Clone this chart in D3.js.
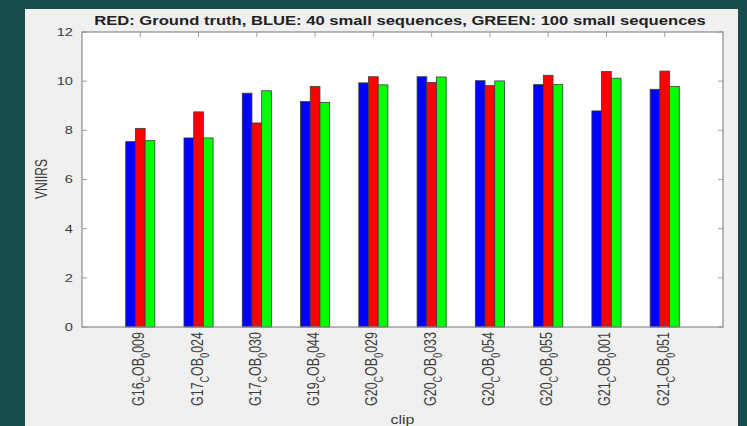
<!DOCTYPE html>
<html>
<head>
<meta charset="utf-8">
<script src="https://cdn.jsdelivr.net/npm/d3@7"></script>
<style>
  html, body { margin: 0; padding: 0; background: #184c4a; }
  svg { display: block; font-family: "Liberation Sans", Arial, Helvetica, sans-serif; }
</style>
</head>
<body>
<svg id="chart" width="747" height="426"></svg>
<script>
// Clip identifiers: group id and sequence number
const clipGroup = ["G16", "G17", "G17", "G19", "G20", "G20", "G20", "G20", "G21", "G21"];
const clipSeq   = ["009", "024", "030", "044", "029", "033", "054", "055", "001", "051"];

// VNIIRS per clip
const blue40   = [7.54, 7.69, 9.51, 9.17, 9.93, 10.18, 10.02, 9.86, 8.79, 9.67];   // 40 small sequences
const redTruth = [8.08, 8.75, 8.30, 9.78, 10.18, 9.95, 9.82, 10.24, 10.39, 10.41]; // ground truth
const green100 = [7.58, 7.69, 9.61, 9.13, 9.85, 10.17, 10.01, 9.86, 10.12, 9.78]; // 100 small sequences

const yTicks = [0, 2, 4, 6, 8, 10, 12];
const seriesNames = ["blue40", "redTruth", "green100"];
const seriesColors = ["#0000ff", "#ff0000", "#00ff00"];

const titleText = "RED: Ground truth, BLUE: 40 small sequences, GREEN: 100 small sequences";

const svg = d3.select("#chart");
const W = 747, H = 426;
const sx = 1.33; // horizontal text stretch

// grey figure panel
svg.append("rect").attr("x", 25).attr("y", 9).attr("width", 713).attr("height", H - 9)
  .attr("fill", "#f0f0f0");

const plot = { left: 82, right: 723, top: 32, bottom: 327 };

const x = d3.scaleLinear().domain([0, clipSeq.length + 1]).range([plot.left, plot.right]);
const y = d3.scaleLinear().domain([0, 12]).range([plot.bottom, plot.top]);
const inner = d3.scaleBand().domain(seriesNames).range([-0.25, 0.25]);

// white axes area
svg.append("rect").attr("x", plot.left).attr("y", plot.top)
  .attr("width", plot.right - plot.left).attr("height", plot.bottom - plot.top)
  .attr("fill", "#ffffff");

// bars
const table = clipSeq.map((s, i) => ({ i, values: [blue40[i], redTruth[i], green100[i]] }));
const groups = svg.append("g").selectAll("g").data(table).join("g");
groups.selectAll("rect")
  .data(d => d.values.map((v, k) => ({ i: d.i, k, v })))
  .join("rect")
  .attr("x", d => x(d.i + 1 + inner(seriesNames[d.k])))
  .attr("width", d => x(inner.bandwidth()) - x(0))
  .attr("y", d => y(d.v))
  .attr("height", d => y(0) - y(d.v))
  .attr("fill", d => seriesColors[d.k])
  .attr("stroke", "#3a3a3a")
  .attr("stroke-width", 0.8);

// axes with inward ticks, mirrored on top/right
const axisColor = "#8a8a8a";
const tickLen = 5;
const xTickVals = d3.range(1, clipSeq.length + 1);

const ax = svg.append("g");
xTickVals.forEach(v => {
  ax.append("line").attr("x1", x(v)).attr("x2", x(v)).attr("y1", plot.bottom).attr("y2", plot.bottom - tickLen)
    .attr("stroke", "#555").attr("stroke-width", 0.8);
  ax.append("line").attr("x1", x(v)).attr("x2", x(v)).attr("y1", plot.top).attr("y2", plot.top + tickLen)
    .attr("stroke", axisColor).attr("stroke-width", 0.8);
});
yTicks.forEach(v => {
  ax.append("line").attr("x1", plot.left).attr("x2", plot.left + tickLen).attr("y1", y(v)).attr("y2", y(v))
    .attr("stroke", axisColor).attr("stroke-width", 0.8);
  ax.append("line").attr("x1", plot.right).attr("x2", plot.right - tickLen).attr("y1", y(v)).attr("y2", y(v))
    .attr("stroke", axisColor).attr("stroke-width", 0.8);
});
svg.append("rect").attr("x", plot.left).attr("y", plot.top)
  .attr("width", plot.right - plot.left).attr("height", plot.bottom - plot.top)
  .attr("fill", "none").attr("stroke", axisColor).attr("stroke-width", 1.2);

const textColor = "#3c3c3c";

// y tick labels
svg.append("g").selectAll("text").data(yTicks).join("text")
  .attr("transform", d => `translate(73,${y(d)}) scale(${sx},1)`)
  .attr("text-anchor", "end").attr("dy", "0.36em")
  .attr("font-size", 11).attr("fill", textColor)
  .text(d => d);

// x tick labels: rotated, with subscripts
const xl = svg.append("g").selectAll("text").data(table).join("text")
  .attr("transform", d => `translate(${x(d.i + 1) + 4},332) scale(${sx},1) rotate(-90)`)
  .attr("text-anchor", "end")
  .attr("font-size", 12.5).attr("fill", textColor);
xl.append("tspan").text(d => clipGroup[d.i]);
xl.append("tspan").attr("font-size", 9).attr("dy", 4.5).text("C");
xl.append("tspan").attr("dy", -4.5).text("OB");
xl.append("tspan").attr("font-size", 9).attr("dy", 4.5).text("0");
xl.append("tspan").attr("dy", -4.5).text(d => clipSeq[d.i]);

// axis labels
svg.append("text")
  .attr("transform", `translate(47,179) scale(${sx},1) rotate(-90)`)
  .attr("text-anchor", "middle").attr("font-size", 12).attr("fill", textColor)
  .text("VNIIRS");
svg.append("text")
  .attr("transform", `translate(${(plot.left + plot.right) / 2},424) scale(${sx},1)`)
  .attr("text-anchor", "middle").attr("font-size", 12).attr("fill", textColor)
  .text("clip");

// title
svg.append("text")
  .attr("transform", `translate(400,24.5) scale(${sx},1)`)
  .attr("text-anchor", "middle").attr("font-size", 12.5).attr("font-weight", "bold").attr("fill", "#222")
  .text(titleText);
</script>
</body>
</html>
